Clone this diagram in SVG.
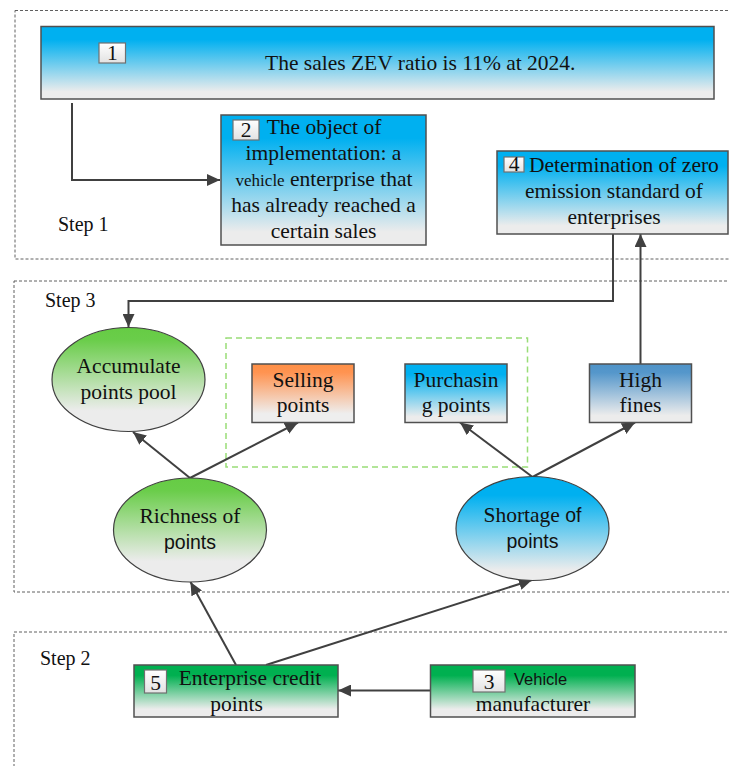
<svg xmlns="http://www.w3.org/2000/svg" width="729" height="766" viewBox="0 0 729 766">
<defs>
<linearGradient id="gBlue" x1="0" y1="0" x2="0" y2="1"><stop offset="0" stop-color="#00B0F0"/><stop offset="0.18" stop-color="#00B0F0"/><stop offset="0.9" stop-color="#ECECEC"/></linearGradient>
<linearGradient id="gGreen" x1="0" y1="0" x2="0" y2="1"><stop offset="0" stop-color="#66CC44"/><stop offset="0.12" stop-color="#6ACD4A"/><stop offset="0.8" stop-color="#ECECEC"/></linearGradient>
<linearGradient id="gDkGreen" x1="0" y1="0" x2="0" y2="1"><stop offset="0" stop-color="#00B050"/><stop offset="0.2" stop-color="#00B050"/><stop offset="0.85" stop-color="#ECECEC"/></linearGradient>
<linearGradient id="gOrange" x1="0" y1="0" x2="0" y2="1"><stop offset="0" stop-color="#FF8F45"/><stop offset="0.15" stop-color="#FF9452"/><stop offset="0.85" stop-color="#EEEEEE"/></linearGradient>
<linearGradient id="gSteel" x1="0" y1="0" x2="0" y2="1"><stop offset="0" stop-color="#4F93C8"/><stop offset="0.15" stop-color="#5597CB"/><stop offset="0.88" stop-color="#ECECEC"/></linearGradient>
<linearGradient id="gNum" x1="0" y1="0" x2="0" y2="1"><stop offset="0" stop-color="#FFFFFF"/><stop offset="1" stop-color="#E2E2E2"/></linearGradient>
<marker id="arr" markerUnits="userSpaceOnUse" markerWidth="14" markerHeight="12" refX="13" refY="6" orient="auto"><path d="M0,0 L13,6 L0,12 Z" fill="#404040"/></marker>
<style>
.box{stroke:#505050;stroke-width:1.5}
.ell{stroke:#404040;stroke-width:1.2}
.num{fill:url(#gNum);stroke:#707070;stroke-width:1.2}
.t{font-family:'Liberation Serif',serif;font-size:21.5px;fill:#111}
.s{font-family:'Liberation Sans',sans-serif;fill:#111}
.step{font-family:'Liberation Serif',serif;font-size:20px;fill:#111}
.m{text-anchor:middle}
.dash{fill:none;stroke:#606060;stroke-width:1;stroke-dasharray:3,2}
.gdash{fill:none;stroke:#99DD77;stroke-width:1.5;stroke-dasharray:6,4}
.c{fill:none;stroke:#404040;stroke-width:2}
</style>
</defs>
<rect width="729" height="766" fill="#FFFFFF"/>
<g id="areas" font-family="Liberation Serif, serif">
<rect class="dash" x="15" y="10.5" width="730" height="248.5"/>
<text class="step" font-family="Liberation Serif, serif" x="58" y="231">Step 1</text>
<rect class="dash" x="14" y="281" width="730" height="311"/>
<text class="step" font-family="Liberation Serif, serif" x="45" y="307">Step 3</text>
<rect class="dash" x="14" y="632" width="730" height="150"/>
<text class="step" font-family="Liberation Serif, serif" x="40" y="665">Step 2</text>
<rect class="gdash" x="226" y="338" width="301.5" height="129"/>
</g>
<g id="connectors">
<path class="c" d="M72,103 V180 H220" marker-end="url(#arr)"/>
<path class="c" d="M613,234 V301 H128.5 V327" marker-end="url(#arr)"/>
<path class="c" d="M640.5,364 V234" marker-end="url(#arr)"/>
<path class="c" d="M190,478 L133,432" marker-end="url(#arr)"/>
<path class="c" d="M190,478 L298,422.5" marker-end="url(#arr)"/>
<path class="c" d="M532.5,477 L460,422.5" marker-end="url(#arr)"/>
<path class="c" d="M532.5,477 L635,422.5" marker-end="url(#arr)"/>
<path class="c" d="M236,665 L190.5,582" marker-end="url(#arr)"/>
<path class="c" d="M266,665 L532,580" marker-end="url(#arr)"/>
<path class="c" d="M430,690.5 H338" marker-end="url(#arr)"/>
</g>
<g id="node1" font-family="Liberation Serif, serif">
<rect class="box" x="41" y="26.5" width="673" height="72.5" fill="url(#gBlue)"/>
<rect class="num" x="99" y="43" width="26.5" height="20"/>
<text class="t m" font-family="Liberation Serif, serif" x="112.3" y="60">1</text>
<text class="t" font-family="Liberation Serif, serif" x="265" y="70">The sales ZEV ratio is 11% at 2024.</text>
</g>
<g id="node2" font-family="Liberation Serif, serif">
<rect class="box" x="221" y="115" width="205" height="130" fill="url(#gBlue)"/>
<rect class="num" x="233" y="120" width="26" height="20"/>
<text class="t m" font-family="Liberation Serif, serif" x="246" y="137">2</text>
<text class="t m" font-family="Liberation Serif, serif" x="324" y="134">The object of</text>
<text class="t m" font-family="Liberation Serif, serif" x="323.5" y="160">implementation: a</text>
<text class="t m" font-family="Liberation Serif, serif" x="324" y="186"><tspan font-size="17px">vehicle</tspan> enterprise that</text>
<text class="t m" font-family="Liberation Serif, serif" x="323.5" y="212">has already reached a</text>
<text class="t m" font-family="Liberation Serif, serif" x="323.5" y="238">certain sales</text>
</g>
<g id="node4" font-family="Liberation Serif, serif">
<rect class="box" x="497" y="151" width="231" height="83" fill="url(#gBlue)"/>
<rect class="num" x="504" y="157" width="20" height="15"/>
<text class="t m" font-family="Liberation Serif, serif" x="514" y="171" font-size="18px">4</text>
<text class="t" font-family="Liberation Serif, serif" x="529" y="172">Determination of zero</text>
<text class="t m" font-family="Liberation Serif, serif" x="614" y="198">emission standard of</text>
<text class="t m" font-family="Liberation Serif, serif" x="614" y="224">enterprises</text>
</g>
<g id="accumulate" font-family="Liberation Serif, serif">
<ellipse class="ell" cx="128.5" cy="379.5" rx="76.5" ry="52" fill="url(#gGreen)"/>
<text class="t m" font-family="Liberation Serif, serif" x="128.5" y="373">Accumulate</text>
<text class="t m" font-family="Liberation Serif, serif" x="128.5" y="399">points pool</text>
</g>
<g id="selling" font-family="Liberation Serif, serif">
<rect class="box" x="252" y="364" width="102" height="58.5" fill="url(#gOrange)"/>
<text class="t m" font-family="Liberation Serif, serif" x="303" y="387">Selling</text>
<text class="t m" font-family="Liberation Serif, serif" x="303" y="412">points</text>
</g>
<g id="purchasing" font-family="Liberation Serif, serif">
<rect class="box" x="405" y="364" width="102" height="58.5" fill="url(#gBlue)"/>
<text class="t m" font-family="Liberation Serif, serif" x="456" y="387">Purchasin</text>
<text class="t m" font-family="Liberation Serif, serif" x="456" y="412">g points</text>
</g>
<g id="highfines" font-family="Liberation Serif, serif">
<rect class="box" x="589.5" y="364" width="102" height="58.5" fill="url(#gSteel)"/>
<text class="t m" font-family="Liberation Serif, serif" x="640.5" y="387">High</text>
<text class="t m" font-family="Liberation Serif, serif" x="640.5" y="412">fines</text>
</g>
<g id="richness">
<ellipse class="ell" cx="190" cy="530" rx="76.5" ry="52" fill="url(#gGreen)"/>
<text class="t m" font-family="Liberation Serif, serif" x="190" y="523">Richness of</text>
<text class="s m" font-family="Liberation Sans, sans-serif" x="190" y="549" font-size="19.5px">points</text>
</g>
<g id="shortage">
<ellipse class="ell" cx="532.5" cy="528.5" rx="76.5" ry="52" fill="url(#gBlue)"/>
<text class="t m" font-family="Liberation Serif, serif" x="532.5" y="522">Shortage <tspan class="s" font-family="Liberation Sans, sans-serif" font-size="19.5px"> of</tspan></text>
<text class="s m" font-family="Liberation Sans, sans-serif" x="532.5" y="548" font-size="19.5px">points</text>
</g>
<g id="node5">
<rect class="box" x="134" y="665" width="204" height="52" fill="url(#gDkGreen)"/>
<rect class="num" x="144.5" y="670" width="22" height="23"/>
<text class="t m" font-family="Liberation Serif, serif" x="155.5" y="690">5</text>
<text class="t m" font-family="Liberation Serif, serif" x="250" y="685">Enterprise credit</text>
<text class="t m" font-family="Liberation Serif, serif" x="236.5" y="711">points</text>
</g>
<g id="node3">
<rect class="box" x="430.5" y="665" width="204.5" height="52" fill="url(#gDkGreen)"/>
<rect class="num" x="473" y="670" width="32" height="22"/>
<text class="t m" font-family="Liberation Serif, serif" x="489" y="689">3</text>
<text class="s" font-family="Liberation Sans, sans-serif" x="514" y="685" font-size="16.5px">Vehicle</text>
<text class="t m" font-family="Liberation Serif, serif" x="533" y="711">manufacturer</text>
</g>
</svg>
